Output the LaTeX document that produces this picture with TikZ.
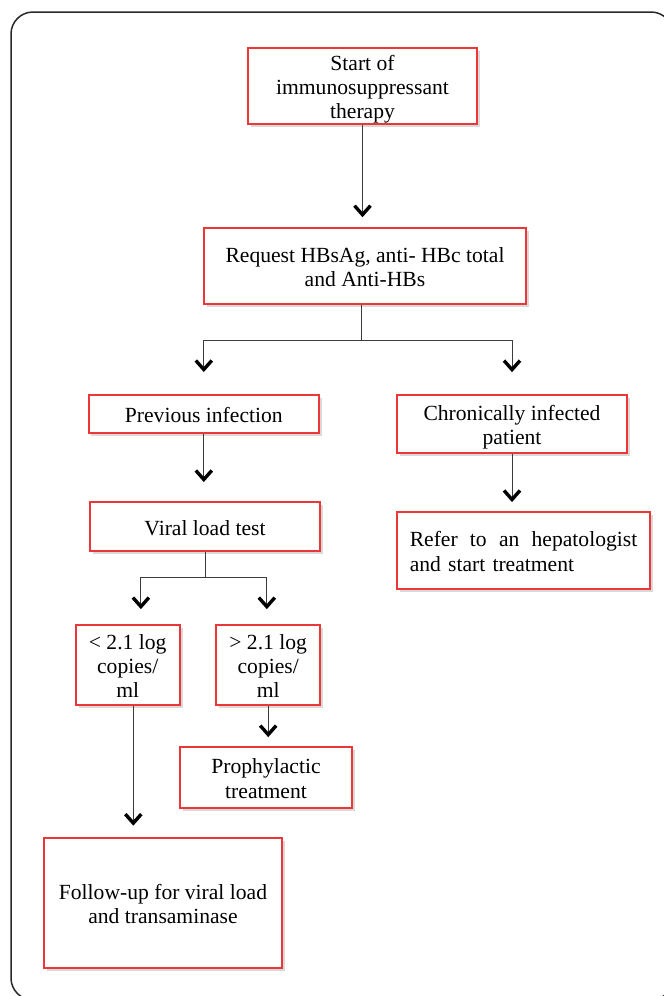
\documentclass[tikz,border=0pt]{standalone}
\usepackage{fontspec}
\setmainfont{Liberation Serif}
\usetikzlibrary{arrows.meta,shadows}
\definecolor{boxred}{RGB}{235,55,55}
\definecolor{linegray}{RGB}{60,60,60}
\definecolor{framegray}{RGB}{40,40,40}
% strut for the first line of a box
\newcommand{\tall}{\rule{0pt}{11pt}}
\begin{document}
\begin{tikzpicture}[x=0.5pt,y=-0.5pt,
  box/.style={draw=boxred,line width=0.95pt,fill=white,inner sep=0pt,align=center,
    font=\fontsize{10.8}{12.2}\selectfont,
    execute at end node={\rule[-2.5pt]{0pt}{0pt}},
    drop shadow={shadow xshift=1.4pt,shadow yshift=-1.4pt,opacity=0.3}},
  link/.style={draw=linegray,line width=0.5pt},
  arr/.style={link,-{Straight Barb[length=4.5pt,width=8pt,line width=1.7pt,color=black]}}]
\useasboundingbox (0,0) rectangle (664,996);
% outer frame
\draw[framegray,line width=0.75pt,rounded corners=11pt] (11,12) rectangle (673,1000);

% boxes
\node[box,minimum width=114.5pt,minimum height=38.3pt] (start) at (362.5,86) {\tall Start of\\immunosuppressant\\therapy};
\node[box,minimum width=161pt,minimum height=38.2pt] (request) at (365,266) {\tall Request HBsAg, anti- HBc total\\and Anti-HBs};
\node[box,minimum width=115.2pt,minimum height=19pt] (previous) at (203.8,414) {\tall Previous infection};
\node[box,minimum width=115pt,minimum height=28.9pt] (chronic) at (512,424) {\tall Chronically infected\\patient};
\node[box,minimum width=115pt,minimum height=24.5pt] (viral) at (205,526.5) {\tall Viral load test};
\node[box,minimum width=126.5pt,minimum height=38.5pt,text width=113.75pt,align=left] (refer) at (523.5,550.5)
  {\tall Refer\hfill to\hfill an\hfill hepatologist\\and start treatment};
\node[box,minimum width=52pt,minimum height=40.3pt] (low) at (127.7,665) {\tall < 2.1 log\\copies/\\ml};
\node[box,minimum width=51.8pt,minimum height=40.3pt] (high) at (268.2,665) {\tall > 2.1 log\\copies/\\ml};
\node[box,minimum width=86pt,minimum height=30.8pt] (prophylaxis) at (266,777.5) {\tall Prophylactic\\treatment};
\node[box,minimum width=119pt,minimum height=65.2pt] (followup) at (163,903) {\tall Follow-up for viral load\\and transaminase};

% first step
\draw[arr,shorten >=4.8pt] (start.south) -- (start.south |- request.north);

% serology split
\coordinate (fork1) at (361,340);
\draw[link] (fork1 |- request.south) -- (fork1);
\draw[arr,shorten >=11pt] (fork1) -| (previous.north);
\draw[arr,shorten >=11pt] (fork1) -| (chronic.north);
\draw[arr,shorten >=9.5pt] (previous.south) -- (previous.south |- viral.north);
\draw[arr,shorten >=4.5pt] (chronic.south) -- (chronic.south |- refer.north);

% viral load split
\coordinate (fork2) at (205.5,577);
\coordinate (low in) at ([xshift=6.6pt]low.north);
\coordinate (high in) at ([xshift=-0.7pt]high.north);
\draw[link] (fork2 |- viral.south) -- (fork2);
\draw[arr,shorten >=7.3pt] (fork2) -| (low in);
\draw[arr,shorten >=7.3pt] (fork2) -| (high in);

% outcomes
\coordinate (low out) at ([xshift=2.8pt]low.south);
\draw[arr,shorten >=5.6pt] (low out) -- (low out |- followup.north);
\draw[arr,shorten >=4.3pt] (high.south) -- (high.south |- prophylaxis.north);
\end{tikzpicture}
\end{document}
